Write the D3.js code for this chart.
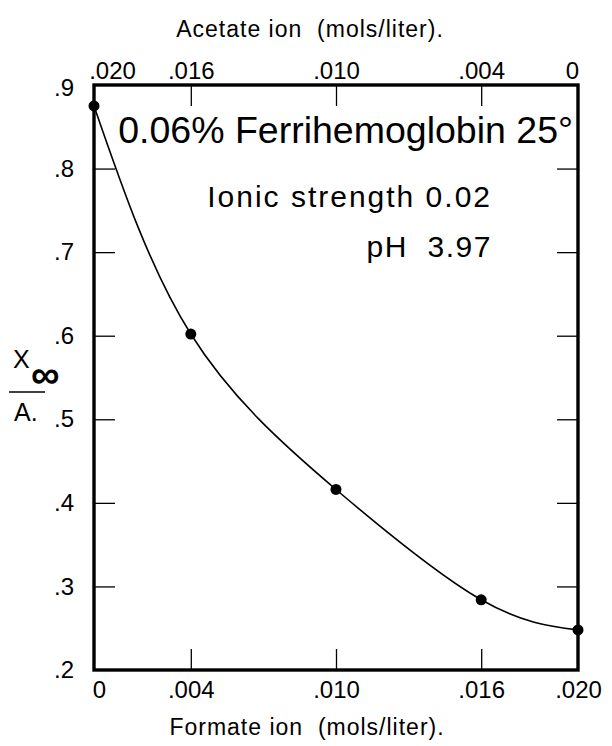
<!DOCTYPE html>
<html><head><meta charset="utf-8">
<script src="https://cdn.jsdelivr.net/npm/d3@7"></script>
<style>
html,body{margin:0;padding:0;background:#fff;}
svg{display:block;}
text{font-family:"Liberation Sans","DejaVu Sans",sans-serif;fill:#000;white-space:pre;}
</style></head>
<body>
<div id="chart"></div>
<script>
// ---- data ----
const formateIon = [0, 0.004, 0.010, 0.016, 0.020];
const ratioValues = [0.875, 0.602, 0.416, 0.284, 0.248];
const bottomTicks = [0, 0.004, 0.010, 0.016, 0.020];
const bottomTickLabels = ["0", ".004", ".010", ".016", ".020"];
const topTicks = [0.020, 0.016, 0.010, 0.004, 0];
const topTickLabels = [".020", ".016", ".010", ".004", "0"];
const yTicks = [0.2, 0.3, 0.4, 0.5, 0.6, 0.7, 0.8, 0.9];
const yTickLabels = [".2", ".3", ".4", ".5", ".6", ".7", ".8", ".9"];
const titleText = "0.06% Ferrihemoglobin 25°";
const noteLines = ["Ionic strength 0.02", "pH  3.97"];
const xTitle = "Formate ion  (mols/liter).";
const x2Title = "Acetate ion  (mols/liter).";

// ---- layout ----
const W = 612, H = 746;
const L = 94, R = 578, T = 85, B = 670;

const svg = d3.select("#chart").append("svg").attr("width", W).attr("height", H);

const x = d3.scaleLinear().domain([0, 0.020]).range([L, R]);
const xTop = d3.scaleLinear().domain([0.020, 0]).range([L, R]);
const y = d3.scaleLinear().domain([0.2, 0.9]).range([B, T]);

const tickLen = 21;

// bottom axis
const gB = svg.append("g").attr("transform", `translate(0,${B})`)
  .call(d3.axisBottom(x).tickValues(bottomTicks).tickSize(-tickLen).tickPadding(11)
    .tickFormat((d, i) => bottomTickLabels[i]));
// top axis
const gT = svg.append("g").attr("transform", `translate(0,${T})`)
  .call(d3.axisTop(xTop).tickValues(topTicks).tickSize(-tickLen).tickPadding(6)
    .tickFormat((d, i) => topTickLabels[i]));
// left axis
const gL = svg.append("g").attr("transform", `translate(${L},0)`)
  .call(d3.axisLeft(y).tickValues(yTicks).tickSize(-tickLen).tickPadding(20)
    .tickFormat((d, i) => yTickLabels[i]));
// right axis
const gR = svg.append("g").attr("transform", `translate(${R},0)`)
  .call(d3.axisRight(y).tickValues(yTicks).tickSize(-tickLen).tickFormat(""));

[gB, gT, gL, gR].forEach(g => {
  g.select(".domain").remove();
  g.selectAll(".tick line").attr("stroke", "#000").attr("stroke-width", 1.3);
  g.selectAll(".tick text").style("font-size", "24px").attr("fill", "#000");
});
gL.selectAll(".tick text").filter(d => d === 0.9).attr("dy", "0.45em");
// no tick marks at frame corners
gB.selectAll(".tick line").filter(d => d === 0 || d === 0.020).remove();
gT.selectAll(".tick line").filter(d => d === 0 || d === 0.020).remove();
gL.selectAll(".tick line").filter(d => d === 0.2 || d === 0.9).remove();
gR.selectAll(".tick line").filter(d => d === 0.2 || d === 0.9).remove();
gT.selectAll(".tick text").filter(d => d === 0.020).attr("dx", 18);
gT.selectAll(".tick text").filter(d => d === 0).attr("dx", -6);
gB.selectAll(".tick text").filter(d => d === 0).attr("dx", 5);

// frame
svg.append("rect").attr("x", L).attr("y", T).attr("width", R - L).attr("height", B - T)
  .attr("fill", "none").attr("stroke", "#000").attr("stroke-width", 3.4);

// curve
const line = d3.line().x(d => x(d[0])).y(d => y(d[1])).curve(d3.curveNatural);
const pts = formateIon.map((f, i) => [f, ratioValues[i]]);
svg.append("path").datum(pts).attr("d", line)
  .attr("fill", "none").attr("stroke", "#000").attr("stroke-width", 1.6);
svg.selectAll("circle.pt").data(pts).enter().append("circle").attr("class", "pt")
  .attr("cx", d => x(d[0])).attr("cy", d => y(d[1])).attr("r", 5.5).attr("fill", "#000");

// annotations
svg.append("text").attr("x", R - 5).attr("y", 143).attr("text-anchor", "end")
  .style("font-size", "37.5px").text(titleText);
svg.append("text").attr("x", 492).attr("y", 207).attr("text-anchor", "end")
  .style("font-size", "30px").style("letter-spacing", "2px").text(noteLines[0]);
svg.append("text").attr("x", 492).attr("y", 257).attr("text-anchor", "end")
  .style("font-size", "30px").style("letter-spacing", "1.5px").text(noteLines[1]);

// axis titles
svg.append("text").attr("x", 307).attr("y", 735).attr("text-anchor", "middle")
  .style("font-size", "23px").style("letter-spacing", "1px").text(xTitle);
svg.append("text").attr("x", 310).attr("y", 37).attr("text-anchor", "middle")
  .style("font-size", "23px").style("letter-spacing", "1px").text(x2Title);

// y label fraction
const yl = svg.append("g");
yl.append("text").attr("x", 13).attr("y", 368).style("font-size", "25px").text("X");
yl.append("text").attr("x", 31).attr("y", 388).style("font-size", "40px")
  .style("font-weight", "bold").text("∞");
yl.append("line").attr("x1", 9).attr("x2", 45).attr("y1", 392).attr("y2", 392)
  .attr("stroke", "#000").attr("stroke-width", 1.5);
yl.append("text").attr("x", 14).attr("y", 421).style("font-size", "25px").text("A.");
</script>
</body></html>
